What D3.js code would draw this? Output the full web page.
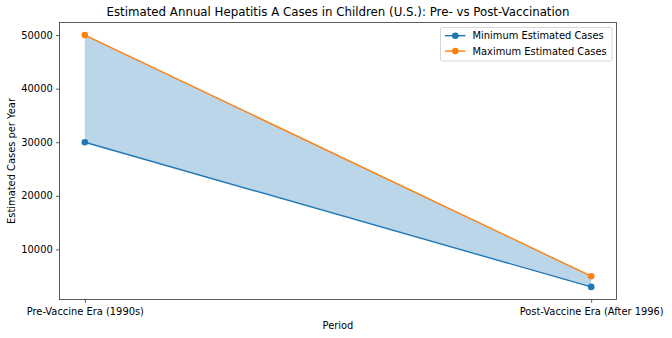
<!DOCTYPE html>
<html>
<head>
<meta charset="utf-8">
<script src="https://cdn.jsdelivr.net/npm/d3@7"></script>
<style>
  html, body { margin: 0; padding: 0; background: #fff; }
  svg { display: block; font-family: "DejaVu Sans", sans-serif; }
</style>
</head>
<body>
<svg id="chart" width="672" height="338"></svg>
<script>
// Periods compared and the estimated yearly case counts for each
const periods = ["Pre-Vaccine Era (1990s)", "Post-Vaccine Era (After 1996)"];
const minCases = [30000, 3000];
const maxCases = [50000, 5000];
const yTicks = [10000, 20000, 30000, 40000, 50000];
const seriesNames = ["Minimum Estimated Cases", "Maximum Estimated Cases"];
const seriesColors = ["#1f77b4", "#ff7f0e"];

const W = 672, H = 338;
const margin = { left: 59.5, right: 55.5, top: 22.5, bottom: 38.5 };
const labelSize = "9.9px";
const svg = d3.select("#chart");

const idx = periods.map((_, i) => i);
const x = d3.scaleLinear().domain([-0.05, 1.05]).range([margin.left, W - margin.right]);
const lo = d3.min(minCases), hi = d3.max(maxCases);
const pad = (hi - lo) * 0.05;
const y = d3.scaleLinear().domain([lo - pad, hi + pad]).range([H - margin.bottom, margin.top]);

// Shaded band between the minimum and maximum estimates
const band = d3.area()
  .x(i => x(i))
  .y0(i => y(minCases[i]))
  .y1(i => y(maxCases[i]));
svg.append("path")
  .datum(idx)
  .attr("d", band)
  .attr("fill", "#1f77b4")
  .attr("fill-opacity", 0.3);

// Lines with circular markers
const line = vals => d3.line().x(i => x(i)).y(i => y(vals[i]));
[minCases, maxCases].forEach((vals, s) => {
  svg.append("path")
    .datum(idx)
    .attr("d", line(vals))
    .attr("fill", "none")
    .attr("stroke", seriesColors[s])
    .attr("stroke-width", 1.4);
  svg.selectAll(null)
    .data(idx)
    .enter()
    .append("circle")
    .attr("cx", i => x(i))
    .attr("cy", i => y(vals[i]))
    .attr("r", 3.3)
    .attr("fill", seriesColors[s]);
});

// Axes
const xAxis = d3.axisBottom(x)
  .tickValues(idx)
  .tickFormat(i => periods[i])
  .tickSizeOuter(0)
  .tickSize(3.4)
  .tickPadding(5.4);
const gx = svg.append("g")
  .attr("transform", `translate(0,${H - margin.bottom})`)
  .call(xAxis);

const yAxis = d3.axisLeft(y)
  .tickValues(yTicks)
  .tickFormat(d3.format("d"))
  .tickSizeOuter(0)
  .tickSize(3.4)
  .tickPadding(3.4);
const gy = svg.append("g")
  .attr("transform", `translate(${margin.left},0)`)
  .call(yAxis);

[gx, gy].forEach(g => {
  g.select(".domain").remove();
  g.selectAll(".tick line").attr("stroke", "#333").attr("stroke-width", 0.8);
  g.selectAll(".tick text")
    .attr("fill", "#000")
    .style("font-size", labelSize)
    .style("font-family", "DejaVu Sans, sans-serif");
});

// Frame around the plotting area
svg.append("rect")
  .attr("x", margin.left)
  .attr("y", margin.top)
  .attr("width", W - margin.right - margin.left)
  .attr("height", H - margin.bottom - margin.top)
  .attr("fill", "none")
  .attr("stroke", "#333")
  .attr("stroke-width", 0.8);

// Titles
svg.append("text")
  .attr("x", (margin.left + W - margin.right) / 2)
  .attr("y", 16)
  .attr("text-anchor", "middle")
  .style("font-size", "11.8px")
  .text("Estimated Annual Hepatitis A Cases in Children (U.S.): Pre- vs Post-Vaccination");

svg.append("text")
  .attr("x", (margin.left + W - margin.right) / 2)
  .attr("y", 329)
  .attr("text-anchor", "middle")
  .style("font-size", labelSize)
  .text("Period");

svg.append("text")
  .attr("transform", `translate(15,${(margin.top + H - margin.bottom) / 2}) rotate(-90)`)
  .attr("text-anchor", "middle")
  .style("font-size", labelSize)
  .text("Estimated Cases per Year");

// Legend
const lg = svg.append("g").attr("transform", "translate(440.5,27.5)");
lg.append("rect")
  .attr("width", 171.5)
  .attr("height", 33.5)
  .attr("rx", 2)
  .attr("fill", "#fff")
  .attr("fill-opacity", 0.8)
  .attr("stroke", "#ccc")
  .attr("stroke-width", 0.8);
seriesNames.forEach((name, s) => {
  const cy = 8.2 + s * 15.4;
  lg.append("line")
    .attr("x1", 4.5).attr("x2", 25)
    .attr("y1", cy).attr("y2", cy)
    .attr("stroke", seriesColors[s])
    .attr("stroke-width", 1.4);
  lg.append("circle")
    .attr("cx", 14.8).attr("cy", cy).attr("r", 3.3)
    .attr("fill", seriesColors[s]);
  lg.append("text")
    .attr("x", 32)
    .attr("y", cy + 3.5)
    .style("font-size", labelSize)
    .text(name);
});
</script>
</body>
</html>
